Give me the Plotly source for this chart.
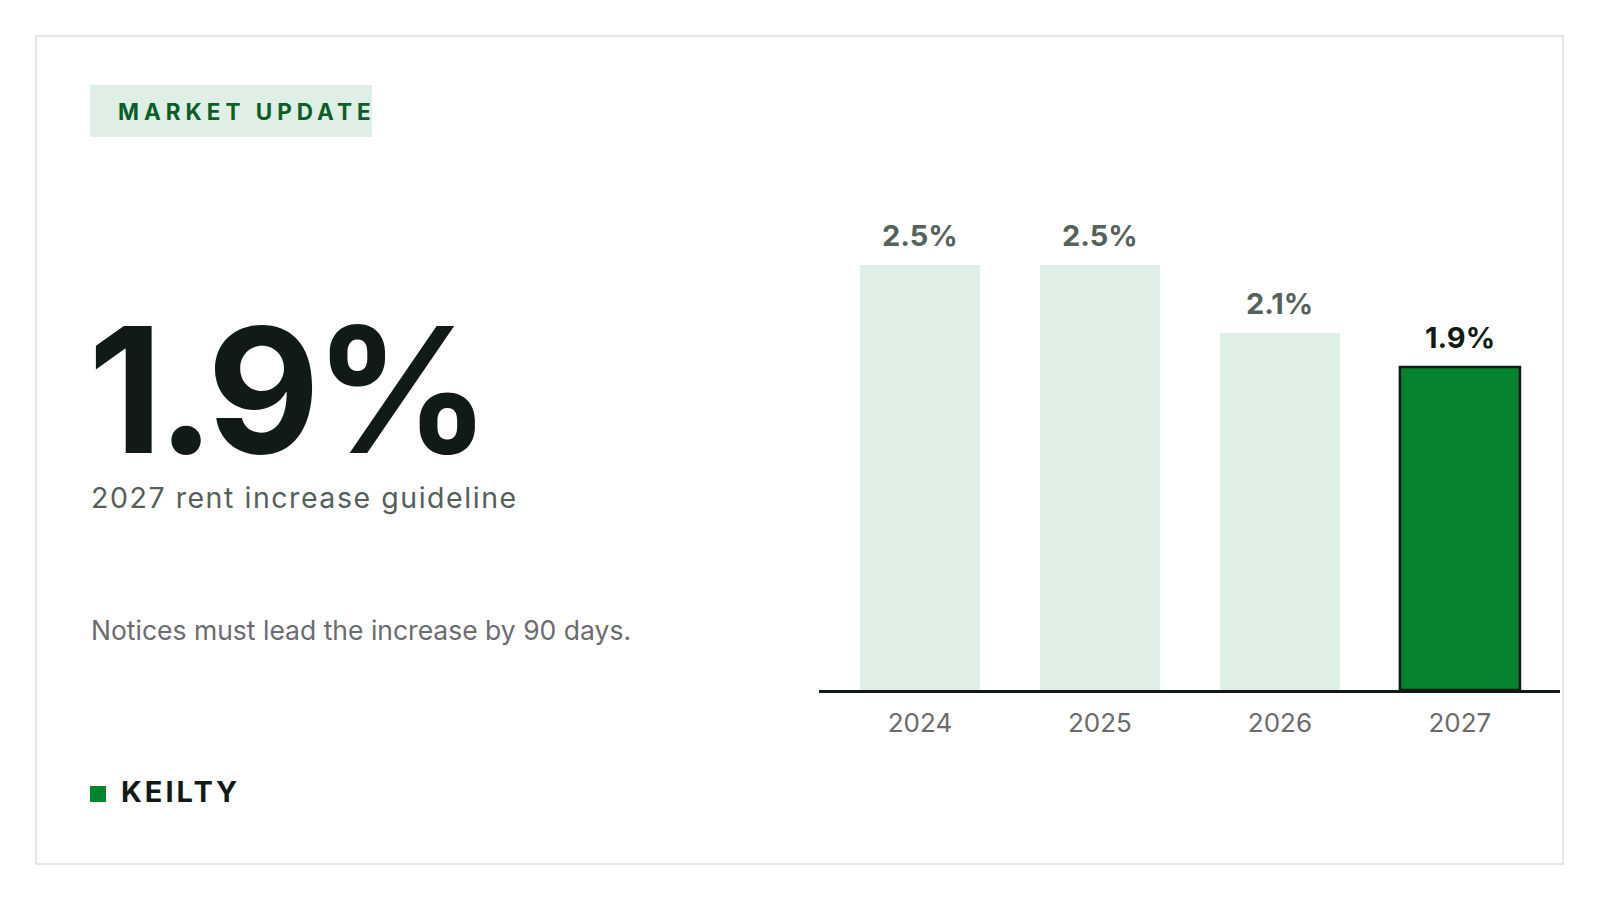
import plotly.graph_objects as go

# chart data
years = ["2024", "2025", "2026", "2027"]
rates = [2.5, 2.5, 2.1, 1.9]
rate_labels = ["2.5%", "2.5%", "2.1%", "1.9%"]

headline = "1.9%"
subtitle = "2027 rent increase guideline"
note = "Notices must lead the increase by 90 days."
badge = "MARKET UPDATE"
brand = "KEILTY"

W, H = 1600, 900
OFF = 8  # page body margin
FONT = "Inter"
DARK = "#121a16"
GREEN = "#05832f"
LIGHT = "#dfefe5"


def px(x):
    return (x - OFF) / W


def py(y):
    return 1 - (y - OFF) / H


bar_colors = [LIGHT] * (len(years) - 1) + [GREEN]
line_colors = [LIGHT] * (len(years) - 1) + [DARK]
line_widths = [0] * (len(years) - 1) + [2.5]
label_colors = ["#56625c"] * (len(years) - 1) + [DARK]

fig = go.Figure()
fig.add_trace(go.Bar(
    x=years, y=rates,
    marker=dict(color=bar_colors, line=dict(color=line_colors, width=line_widths)),
    hoverinfo="skip",
))

for i, (val, lab, col) in enumerate(zip(rates, rate_labels, label_colors)):
    fig.add_annotation(x=i, y=val, xref="x", yref="y", text="<b>" + lab + "</b>",
                       showarrow=False, yanchor="bottom", yshift=10,
                       font=dict(family=FONT, size=29, color=col))

shapes = [
    # card
    dict(type="rect", xref="paper", yref="paper", x0=px(36), x1=px(1563), y0=py(864), y1=py(36),
         line=dict(color="#e4e6e5", width=2), fillcolor="white", layer="below"),
    # badge
    dict(type="rect", xref="paper", yref="paper", x0=px(90), x1=px(372), y0=py(137), y1=py(85),
         line=dict(width=0), fillcolor="#e0efe5", layer="below"),
    # brand square
    dict(type="rect", xref="paper", yref="paper", x0=px(90), x1=px(106), y0=py(802), y1=py(786),
         line=dict(width=0), fillcolor=GREEN),
]

left_text = [
    (badge, 116, 111, 22.5, "#0b5e2a", True, 5),
    (headline, 86, 390, 174, DARK, True, -6),
    (subtitle, 89, 497, 28.5, "#56605a", False, 1.55),
    (note, 89, 630, 26.5, "#6b6b70", False, 0),
    (brand, 119, 791, 29, DARK, True, 3),
]
for txt, x, y, size, col, bold, spacing in left_text:
    t = txt
    if spacing:
        t = '<span style="letter-spacing:%spx">%s</span>' % (spacing, t)
    if bold:
        t = "<b>" + t + "</b>"
    fig.add_annotation(x=px(x), y=py(y), xref="paper", yref="paper", text=t,
                       showarrow=False, xanchor="left", yanchor="middle",
                       font=dict(family=FONT, size=size, color=col))

fig.update_layout(
    width=W, height=H,
    margin=dict(l=0, r=0, t=0, b=0),
    paper_bgcolor="white", plot_bgcolor="rgba(0,0,0,0)",
    showlegend=False,
    bargap=0.333,
    shapes=shapes,
    font=dict(family=FONT),
    xaxis=dict(type="category", domain=[px(819), px(1560)], range=[-0.561, 3.556],
               showline=True, linecolor=DARK, linewidth=2.5, showgrid=False,
               zeroline=False, ticks="", ticklabelstandoff=8,
               tickfont=dict(family=FONT, size=26, color="#6b6b6b")),
    yaxis=dict(domain=[py(690), py(180)], range=[0, 3], visible=False),
)

fig.write_html("out.html")
